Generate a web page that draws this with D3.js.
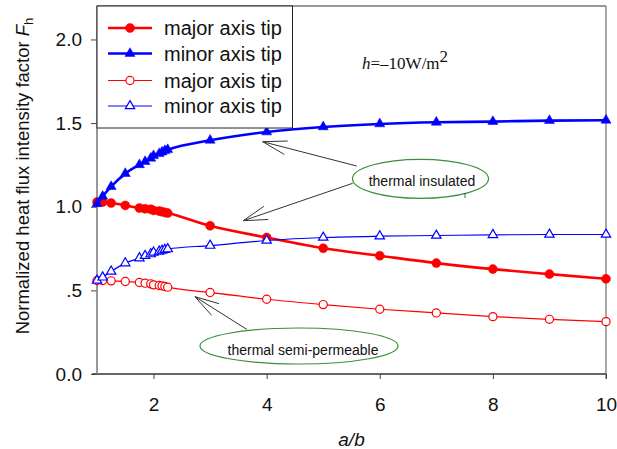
<!DOCTYPE html>
<html>
<head>
<meta charset="utf-8">
<script src="https://cdn.jsdelivr.net/npm/d3@7"></script>
<style>
  body { margin: 0; background: #fff; }
  svg { display: block; font-family: "Liberation Sans", Arial, sans-serif; }
</style>
</head>
<body>
<svg id="chart" width="617" height="449"></svg>
<script>
// Datos
const ratio = [1, 1.1, 1.25, 1.5, 1.75, 1.85, 1.95, 2.0, 2.1, 2.15, 2.2, 2.25, 3, 4, 5, 6, 7, 8, 9, 10];
const majorInsulated = [1.028, 1.028, 1.022, 1.008, 0.992, 0.988, 0.985, 0.978, 0.974, 0.970, 0.966, 0.962, 0.886, 0.816, 0.752, 0.707, 0.663, 0.627, 0.597, 0.569];
const minorInsulated = [1.018, 1.062, 1.12, 1.198, 1.251, 1.27, 1.29, 1.305, 1.317, 1.327, 1.335, 1.341, 1.397, 1.447, 1.477, 1.495, 1.505, 1.509, 1.515, 1.517];
const majorSemi = [0.559, 0.559, 0.557, 0.553, 0.547, 0.543, 0.539, 0.533, 0.529, 0.527, 0.523, 0.519, 0.487, 0.447, 0.415, 0.387, 0.365, 0.343, 0.327, 0.313];
const minorSemi = [0.559, 0.578, 0.613, 0.663, 0.693, 0.707, 0.717, 0.727, 0.733, 0.738, 0.743, 0.747, 0.768, 0.798, 0.816, 0.824, 0.828, 0.832, 0.834, 0.834];
const xTicks = [2, 4, 6, 8, 10];
const yTicks = [0, 0.5, 1.0, 1.5, 2.0];
const yTickLabels = ["0.0", ".5", "1.0", "1.5", "2.0"];
const legendLabels = ["major axis tip", "minor axis tip", "major axis tip", "minor axis tip"];

const svg = d3.select('#chart');
const pLeft = 97, pRight = 606, pTop = 6, pBottom = 374;
const x = d3.scaleLinear().domain([1, 10]).range([pLeft, pRight]);
const y = d3.scaleLinear().domain([0, 2.2]).range([pBottom, pTop]);

// Marco
svg.append('line').attr('x1', pLeft).attr('x2', pRight).attr('y1', pTop).attr('y2', pTop)
    .attr('stroke', '#333').attr('stroke-width', 1);
svg.append('line').attr('x1', pRight).attr('x2', pRight).attr('y1', pTop).attr('y2', pBottom + 5)
    .attr('stroke', '#777').attr('stroke-width', 1.3);

// Eje X
const xAxis = svg.append('g')
    .attr('transform', `translate(0,${pBottom})`)
    .call(d3.axisBottom(x).tickValues(xTicks).tickSize(5).tickPadding(19).tickFormat(d3.format('d')));
xAxis.select('.domain').remove();
xAxis.selectAll('line').attr('stroke', '#444');
xAxis.selectAll('text').attr('font-size', 19).attr('fill', '#111').attr('font-family', '"Liberation Sans", Arial, sans-serif');
svg.append('line').attr('x1', pLeft - 5).attr('x2', pRight).attr('y1', pBottom).attr('y2', pBottom)
    .attr('stroke', '#333').attr('stroke-width', 1.3);

// Eje Y
const yAxis = svg.append('g')
    .attr('transform', `translate(${pLeft},0)`)
    .call(d3.axisLeft(y).tickValues(yTicks).tickSize(6).tickPadding(9).tickFormat((d, i) => yTickLabels[i]));
yAxis.select('.domain').remove();
yAxis.selectAll('line').attr('stroke', '#444');
yAxis.selectAll('text').attr('font-size', 19).attr('fill', '#111').attr('font-family', '"Liberation Sans", Arial, sans-serif');
svg.append('line').attr('x1', pLeft).attr('x2', pLeft).attr('y1', pTop).attr('y2', pBottom)
    .attr('stroke', '#777').attr('stroke-width', 1.5);

// Títulos de ejes
svg.append('text')
    .attr('x', (pLeft + pRight) / 2).attr('y', 446)
    .attr('text-anchor', 'middle').attr('font-size', 19).attr('font-style', 'italic').attr('fill', '#111')
    .text('a/b');
const yt = svg.append('text')
    .attr('transform', 'translate(29,176) rotate(-90)')
    .attr('text-anchor', 'middle').attr('font-size', 18.5).attr('fill', '#111');
yt.append('tspan').text('Normalized heat flux intensity factor ');
yt.append('tspan').attr('font-style', 'italic').text('F');
yt.append('tspan').attr('font-size', 13).attr('dy', 4).text('h');

// Anotaciones
function arrow(x1, y1, x2, y2) {
    const a = Math.atan2(y1 - y2, x1 - x2);
    const len = 25, spread = 0.28;
    svg.append('line').attr('x1', x1).attr('y1', y1).attr('x2', x2).attr('y2', y2)
        .attr('stroke', '#333').attr('stroke-width', 1);
    [a - spread, a + spread].forEach(b => {
        svg.append('line').attr('x1', x2).attr('y1', y2)
            .attr('x2', x2 + len * Math.cos(b)).attr('y2', y2 + len * Math.sin(b))
            .attr('stroke', '#333').attr('stroke-width', 1);
    });
}
arrow(356.7, 166, 262.7, 141.7);
arrow(352.7, 183.3, 243.3, 220.7);
arrow(246.7, 329.3, 195, 296.7);

svg.append('ellipse').attr('cx', 420.5).attr('cy', 178.8).attr('rx', 68).attr('ry', 19.5)
    .attr('fill', 'none').attr('stroke', '#3a8f3a').attr('stroke-width', 1.2);
svg.append('text').attr('x', 422).attr('y', 186).attr('text-anchor', 'middle')
    .attr('font-size', 14).attr('fill', '#111').text('thermal insulated');
svg.append('line').attr('x1', 465).attr('x2', 465).attr('y1', 193).attr('y2', 198)
    .attr('stroke', '#333').attr('stroke-width', 0.8);

svg.append('ellipse').attr('cx', 299).attr('cy', 346).attr('rx', 99).attr('ry', 18)
    .attr('fill', 'none').attr('stroke', '#3a8f3a').attr('stroke-width', 1.2);
svg.append('text').attr('x', 303).attr('y', 355).attr('text-anchor', 'middle')
    .attr('font-size', 14).attr('fill', '#111').text('thermal semi-permeable');

const ht = svg.append('text').attr('x', 362).attr('y', 69)
    .attr('font-family', '"Liberation Serif", "Times New Roman", serif').attr('font-size', 17).attr('fill', '#111');
ht.append('tspan').attr('font-style', 'italic').text('h');
ht.append('tspan').text('=\u201310W/m');
ht.append('tspan').attr('dy', -7).text('2');

// Series
const series = [
    { vals: majorInsulated, color: '#ff0000', width: 2.6, shape: d3.symbolCircle, size: 64, filled: true },
    { vals: minorInsulated, color: '#0000ff', width: 2.6, shape: d3.symbolTriangle, size: 44, filled: true },
    { vals: majorSemi, color: '#ff0000', width: 1.2, shape: d3.symbolCircle, size: 52, filled: false },
    { vals: minorSemi, color: '#0000ff', width: 1.2, shape: d3.symbolTriangle, size: 38, filled: false }
];

const line = d3.line().x((d, i) => x(ratio[i])).y(d => y(d)).curve(d3.curveMonotoneX);

series.forEach(s => {
    svg.append('path').datum(s.vals).attr('d', line)
        .attr('fill', 'none').attr('stroke', s.color).attr('stroke-width', s.width);
    svg.append('g').selectAll('path').data(s.vals).join('path')
        .attr('transform', (d, i) => `translate(${x(ratio[i])},${y(d)})`)
        .attr('d', d3.symbol().type(s.shape).size(s.size))
        .attr('fill', s.filled ? s.color : '#fff')
        .attr('stroke', s.color).attr('stroke-width', s.filled ? 0.5 : 1.2);
});

// Leyenda
svg.append('rect').attr('x', 97).attr('y', 6).attr('width', 195.5).attr('height', 122)
    .attr('fill', '#fff').attr('stroke', '#222').attr('stroke-width', 1);
const rows = [28, 53.5, 80.5, 106];
series.forEach((s, i) => {
    const g = svg.append('g').attr('transform', `translate(0,${rows[i]})`);
    g.append('line').attr('x1', 108).attr('x2', 152).attr('y1', 0).attr('y2', 0)
        .attr('stroke', s.color).attr('stroke-width', s.width);
    g.append('path').attr('transform', 'translate(130,0)')
        .attr('d', d3.symbol().type(s.shape).size(s.size))
        .attr('fill', s.filled ? s.color : '#fff')
        .attr('stroke', s.color).attr('stroke-width', s.filled ? 0.5 : 1.2);
    g.append('text').attr('x', 164).attr('y', 7).attr('font-size', 20).attr('fill', '#111').text(legendLabels[i]);
});
</script>
</body>
</html>
